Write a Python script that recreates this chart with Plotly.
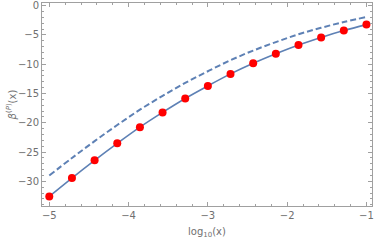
import plotly.graph_objects as go

# data
x_pts = [-5.0, -4.7143, -4.4286, -4.1429, -3.8571, -3.5714, -3.2857, -3.0,
         -2.7143, -2.4286, -2.1429, -1.8571, -1.5714, -1.2857, -1.0]
beta_pts = [-32.56, -29.43, -26.41, -23.51, -20.74, -18.22, -15.85, -13.7,
            -11.65, -9.83, -8.2, -6.7, -5.42, -4.26, -3.24]
beta_dashed = [-28.99, -26.01, -23.13, -20.38, -17.76, -15.40, -13.19, -11.20,
               -9.32, -7.67, -6.22, -4.89, -3.78, -2.79, -1.94]

x_ticks = [-5, -4, -3, -2, -1]
y_ticks = [0, -5, -10, -15, -20, -25, -30]
x_title = "log<sub>10</sub>(x)"
y_title = "<i>β</i><sup>(<i>P</i>)</sup>(x)"

line_col = "#5E81B5"
frame_col = "#a0a0a0"
font_col = "#707070"

fig = go.Figure()
fig.add_trace(go.Scatter(x=x_pts, y=beta_dashed, mode="lines",
                         line=dict(color=line_col, width=2, dash="6px,3px", shape="spline"),
                         showlegend=False))
fig.add_trace(go.Scatter(x=x_pts, y=beta_pts, mode="lines",
                         line=dict(color=line_col, width=1.6, shape="spline"),
                         showlegend=False))
fig.add_trace(go.Scatter(x=x_pts, y=beta_pts, mode="markers",
                         marker=dict(color="red", size=8),
                         showlegend=False))

axis_common = dict(showline=True, linecolor=frame_col, linewidth=1, mirror="allticks",
                   ticks="inside", tickcolor=frame_col, ticklen=4, showgrid=False,
                   zeroline=False, automargin=False,
                   tickfont=dict(family="DejaVu Sans", size=10, color=font_col))

fig.update_xaxes(range=[-5.092, -0.93], tickvals=x_ticks,
                 minor=dict(dtick=0.2, ticklen=2, tickcolor=frame_col, ticks="inside", showgrid=False),
                 **axis_common)
fig.update_yaxes(range=[-34.2, 0.45], tickvals=y_ticks,
                 minor=dict(dtick=1, ticklen=2, tickcolor=frame_col, ticks="inside", showgrid=False),
                 **axis_common)

fig.add_annotation(text=x_title, xref="paper", yref="paper", x=0.5, y=-0.133,
                   xanchor="center", yanchor="middle", showarrow=False,
                   font=dict(family="DejaVu Sans", size=10, color=font_col))
fig.add_annotation(text=y_title, xref="paper", yref="paper", x=-0.094, y=0.5,
                   xanchor="center", yanchor="middle", showarrow=False, textangle=-90,
                   font=dict(family="DejaVu Sans", size=10, color=font_col))

fig.update_layout(width=374, height=245, margin=dict(l=42, r=2, t=3, b=39),
                  plot_bgcolor="white", paper_bgcolor="white")

fig.write_html("out.html", config={"displayModeBar": False},
               post_script="document.body.style.margin='0';document.body.style.padding='0';")
